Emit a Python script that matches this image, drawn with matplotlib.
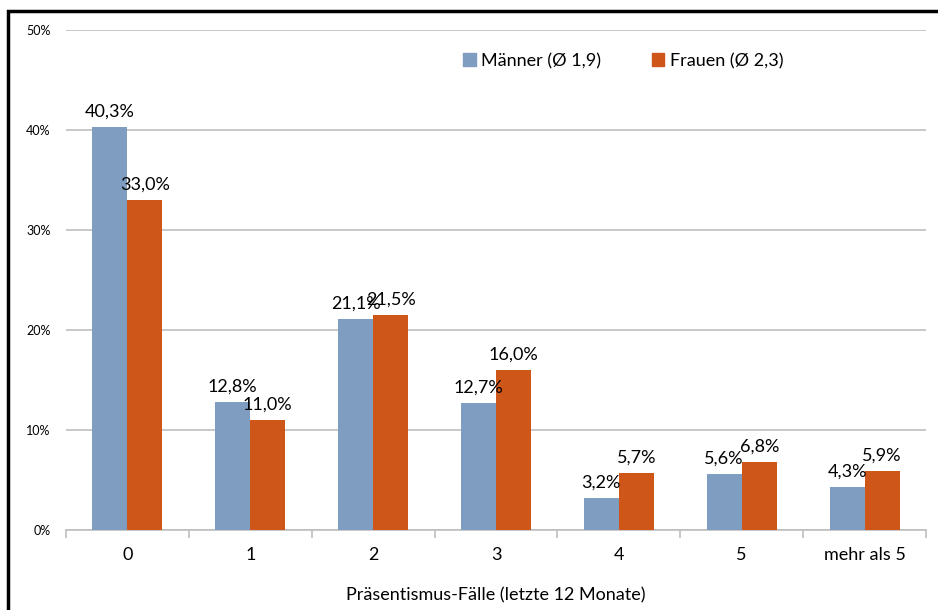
import matplotlib
matplotlib.use("Agg")
import matplotlib.pyplot as plt
from matplotlib.patches import Rectangle, Patch
import numpy as np

plt.rcParams["font.family"] = ["Lato", "DejaVu Sans"]

categories = ["0", "1", "2", "3", "4", "5", "mehr als 5"]
maenner = [40.3, 12.8, 21.1, 12.7, 3.2, 5.6, 4.3]
frauen = [33.0, 11.0, 21.5, 16.0, 5.7, 6.8, 5.9]
series_names = ["Männer (Ø 1,9)", "Frauen (Ø 2,3)"]

blue = "#7F9DC1"
orange = "#CF5619"

fig = plt.figure(figsize=(9.38, 6.10), dpi=100)
ax = fig.add_axes([66 / 938, 1 - 530 / 610, 860 / 938, 500 / 610])

# frame around the chart (cut off at right and bottom)
fig.patches.append(Rectangle((8 / 938, -0.1), 1.2, 1 - 11 / 610 + 0.1,
                             transform=fig.transFigure, fill=False,
                             edgecolor="black", linewidth=2.5))

x = np.arange(len(categories))
w = 0.285
b1 = ax.bar(x - w / 2, maenner, w, color=blue, zorder=3)
b2 = ax.bar(x + w / 2, frauen, w, color=orange, zorder=3)

for bars, vals in ((b1, maenner), (b2, frauen)):
    for bar, v in zip(bars, vals):
        ax.annotate(f"{v:.1f}%".replace(".", ","),
                    (bar.get_x() + bar.get_width() / 2, v),
                    xytext=(0, 5), textcoords="offset points",
                    ha="center", va="bottom", fontsize=13)

ax.set_xlim(-0.5, len(categories) - 0.5)
ax.set_ylim(0, 50)
ax.set_yticks(range(0, 51, 10))
ax.set_yticklabels([f"{t}%" for t in range(0, 51, 10)], fontsize=9)
ax.yaxis.grid(True, color="#BFBFBF", linewidth=1.2, zorder=0)
ax.tick_params(axis="y", length=0, pad=11)

ax.set_xticks(x)
ax.set_xticklabels(categories, fontsize=13)
ax.set_xticks(np.arange(-0.5, len(categories)), minor=True)
ax.tick_params(axis="x", which="major", length=0, pad=12)
ax.tick_params(axis="x", which="minor", length=6, color="#BFBFBF", width=1.2)

for s in ("top", "right", "left"):
    ax.spines[s].set_visible(False)
ax.spines["bottom"].set_color("#BFBFBF")
ax.spines["bottom"].set_linewidth(1.2)

ax.set_xlabel("Präsentismus-Fälle (letzte 12 Monate)", fontsize=13, labelpad=18)

handles = [Patch(color=blue), Patch(color=orange)]
ax.legend(handles, series_names, loc="center", bbox_to_anchor=(0.648, 0.938),
          ncol=2, frameon=False, fontsize=13, handlelength=0.7,
          handleheight=0.7, handletextpad=0.3, columnspacing=2.8)

fig.savefig("out.png", dpi=100)
